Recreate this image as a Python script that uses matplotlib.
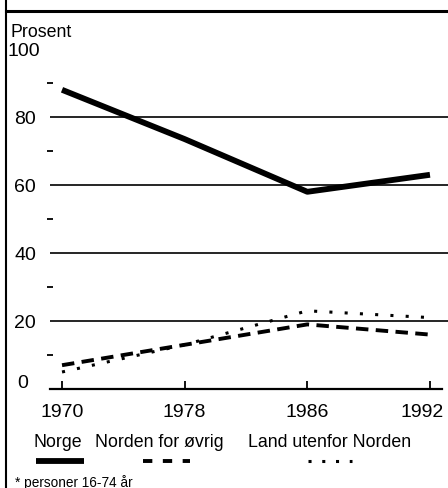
import matplotlib

matplotlib.use("Agg")
import matplotlib.pyplot as plt
import matplotlib.transforms as mtransforms
from matplotlib.lines import Line2D

plt.rcParams["font.family"] = ["Liberation Sans", "DejaVu Sans"]

W, H = 448, 489

years = ["1970", "1978", "1986", "1992"]
norge = [88, 73.5, 58, 63]
norden_ovrig = [7, 13, 19, 16]
utenfor_norden = [5, 13, 23, 21]
series_names = ["Norge", "Norden for øvrig", "Land utenfor Norden"]
y_labels = [20, 40, 60, 80, 100]
grid_vals = [20, 40, 60, 80]
minor_vals = [10, 30, 50, 70, 90]


def fx(px):
    return px / W


def fy(py):
    return 1 - py / H


def nudge(label, dx_px):
    label.set_transform(label.get_transform()
                        + mtransforms.ScaledTranslation(dx_px / 100, 0, fig.dpi_scale_trans))


fig = plt.figure(figsize=(W / 100, H / 100), dpi=100)
ax = fig.add_axes([fx(50), fy(390), fx(448) - fx(50), fy(50) - fy(390)])

x = range(len(years))
ax.plot(x, norge, color="black", lw=4.2, solid_capstyle="butt")
ax.plot(x, norden_ovrig, color="black", lw=2.8, ls=(0, (3.2, 1.9)), dash_capstyle="butt")
ax.plot(x, utenfor_norden, color="black", lw=2.2, ls=(0, (1, 4)), dash_capstyle="butt")

for v in grid_vals:
    ax.axhline(v, color="black", lw=1.2, zorder=0)

ax.set_xlim(-0.098, 3.147)
ax.set_ylim(0, 100)
ax.set_xticks(list(x))
ax.set_xticklabels(years, fontsize=14)
ax.tick_params(axis="x", direction="in", length=6, width=1.3, pad=10)
# last year label is pushed against the right edge, as in the original
last = ax.get_xticklabels()[-1]
last.set_horizontalalignment("right")
nudge(last, 14)

ax.set_yticks(y_labels)
ax.set_yticklabels([str(v) for v in y_labels], fontsize=14)
ax.set_yticks(minor_vals, minor=True)
ax.tick_params(axis="y", which="major", length=0, pad=10)
ax.tick_params(axis="y", which="minor", direction="inout", length=4, width=1.3)
nudge(ax.get_yticklabels()[-1], 4)

for s in ["top", "right", "left"]:
    ax.spines[s].set_visible(False)
ax.spines["bottom"].set_linewidth(1.6)
ax.spines["bottom"].set_bounds(-0.098, 3.1)

# the zero label sits lower-left of the other tick labels
ax.annotate("0", xy=(0, 0), xycoords=("axes fraction", "data"),
            xytext=(-16, 5), textcoords="offset points",
            ha="right", va="center", fontsize=14)

fig.text(fx(10), fy(37), "Prosent", fontsize=12.8, ha="left", va="baseline")

# legend: labels above line samples
legend_text_x = [58, 159, 330]
legend_line_x = [(36, 84), (143, 190), (308, 352)]
legend_styles = [
    dict(lw=4.2, ls="-", solid_capstyle="butt"),
    dict(lw=2.8, ls=(0, (2.4, 2.7)), dash_capstyle="butt"),
    dict(lw=2.2, ls=(0, (1, 3.5)), dash_capstyle="butt"),
]
for name, tx, (x0, x1), st in zip(series_names, legend_text_x, legend_line_x, legend_styles):
    fig.text(fx(tx), fy(447), name, fontsize=12.8, ha="center", va="baseline")
    fig.add_artist(Line2D([fx(x0), fx(x1)], [fy(462), fy(462)], color="black", **st))

fig.text(fx(15), fy(487), "* personer 16-74 år", fontsize=9.8, ha="left", va="baseline")

# frame lines of the clipped figure box
fig.add_artist(Line2D([fx(6), fx(6)], [0, 1], color="black", lw=1.5))
fig.add_artist(Line2D([fx(6), 1], [fy(11.5), fy(11.5)], color="black", lw=2.2))

fig.savefig("out.png", dpi=100)
